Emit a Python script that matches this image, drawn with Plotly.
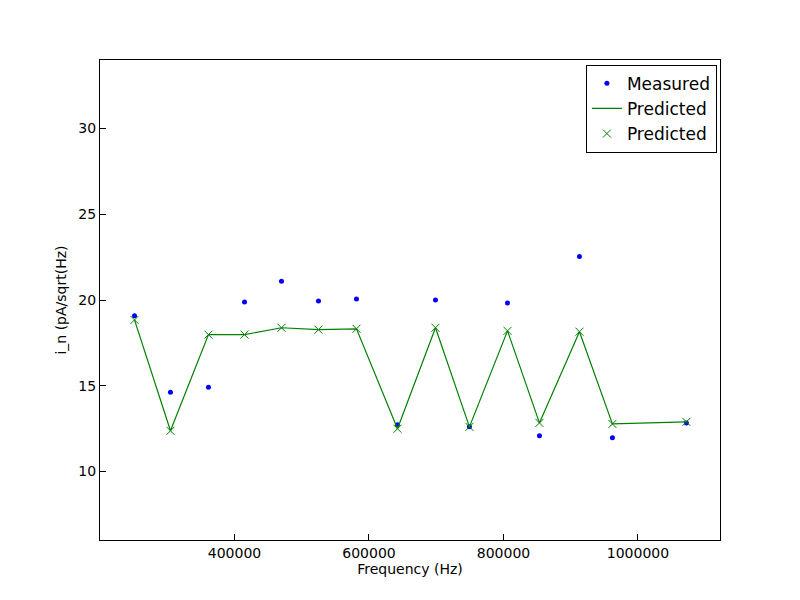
import plotly.graph_objects as go

freq = [251300, 304800, 361300, 414900, 469900, 524900, 581400, 642400,
        698900, 749400, 806000, 853500, 913000, 962000, 1072000]
measured = [19.08, 14.62, 14.91, 19.88, 21.1, 19.94, 20.06, 12.72,
            20.0, 12.6, 19.83, 12.08, 22.54, 11.97, 12.83]
predicted = [18.84, 12.37, 17.98, 17.98, 18.38, 18.27, 18.32, 12.49,
             18.38, 12.6, 18.2, 12.83, 18.15, 12.77, 12.89]

fig = go.Figure()
fig.add_trace(go.Scatter(x=freq, y=measured, mode="markers", name="Measured",
                         marker=dict(color="blue", size=5)))
fig.add_trace(go.Scatter(x=freq, y=predicted, mode="lines", name="Predicted",
                         line=dict(color="green", width=1.2)))
fig.add_trace(go.Scatter(x=freq, y=predicted, mode="markers", name="Predicted",
                         marker=dict(color="green", symbol="x-thin", size=8,
                                     line=dict(color="green", width=1))))

axis = dict(showgrid=False, zeroline=False, showline=True, mirror=True,
            linecolor="black", linewidth=1, ticks="inside", ticklen=6,
            tickcolor="black", tickfont=dict(size=14))
fig.update_xaxes(range=[200000, 1122000], tickvals=[400000, 600000, 800000, 1000000],
                 ticktext=["400000", "600000", "800000", "1000000"],
                 title=dict(text="Frequency (Hz)", standoff=4, font=dict(size=14)), **axis)
fig.update_yaxes(range=[6, 34], tickvals=[10, 15, 20, 25, 30],
                 title=dict(text="i_n (pA/sqrt(Hz)", standoff=8, font=dict(size=14)), **axis)
fig.update_layout(
    width=800, height=600, plot_bgcolor="white", paper_bgcolor="white",
    margin=dict(l=92, r=88, t=52, b=68),
    font=dict(family="DejaVu Sans", size=14, color="black"),
    legend=dict(x=0.995, y=0.99, xanchor="right", yanchor="top",
                bordercolor="black", borderwidth=1, bgcolor="white",
                font=dict(size=17), tracegroupgap=0),
)
fig.write_html("out.html")
